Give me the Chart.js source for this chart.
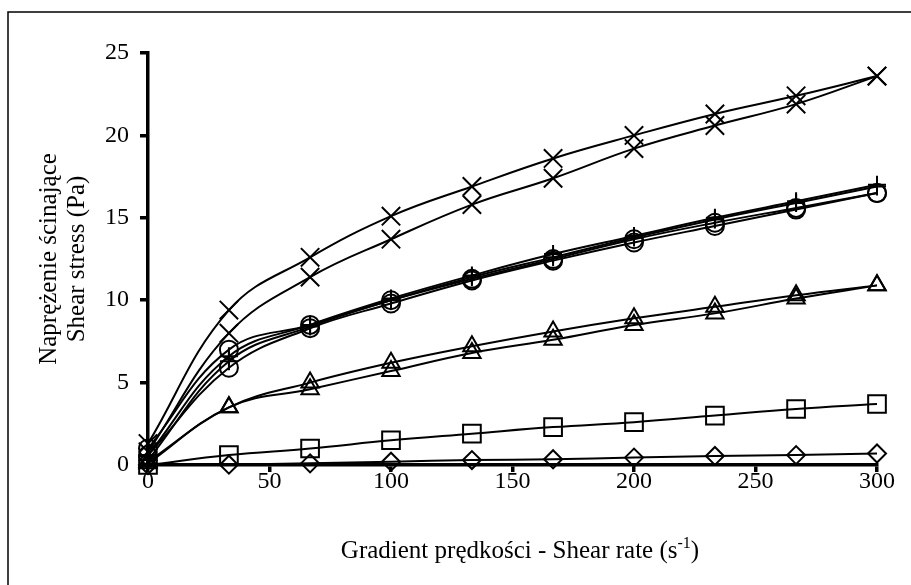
<!DOCTYPE html>
<html>
<head>
<meta charset="utf-8">
<script src="https://cdn.jsdelivr.net/npm/chart.js@4.4.0/dist/chart.umd.min.js"></script>
<style>
  html, body { margin: 0; padding: 0; background: #fff; }
  #wrap { width: 911px; height: 585px; position: relative; }
</style>
</head>
<body>
<div id="wrap"><canvas id="chart" width="911" height="585"></canvas></div>
<script>
// Gradient prędkości (s-1)
const shearRate = [0, 33.3, 66.7, 100, 133.3, 166.7, 200, 233.3, 266.7, 300];

// Naprężenie ścinające (Pa), krzywe w górę / w dół
const crossUp    = [1.3, 9.4, 12.6, 15.1, 16.9, 18.6, 20.0, 21.3, 22.4, 23.6];
const crossDown  = [0.8, 8.0, 11.4, 13.7, 15.8, 17.4, 19.2, 20.6, 21.9, 23.6];
const plusUp     = [0.6, 6.6, 8.5, 10.1, 11.5, 12.8, 13.9, 15.0, 16.0, 17.0];
const plusDown   = [0.3, 6.3, 8.4, 10.0, 11.4, 12.6, 13.8, 14.9, 15.9, 16.9];
const circleUp   = [1.0, 7.0, 8.5, 10.0, 11.3, 12.5, 13.7, 14.7, 15.6, 16.5];
const circleDown = [0.6, 5.9, 8.3, 9.8, 11.2, 12.4, 13.5, 14.5, 15.5, 16.5];
const triUp      = [0.2, 3.5, 5.0, 6.2, 7.2, 8.1, 8.9, 9.6, 10.3, 10.9];
const triDown    = [0.1, 3.5, 4.6, 5.7, 6.8, 7.6, 8.5, 9.2, 10.1, 10.9];
const squares    = [0, 0.6, 1.0, 1.5, 1.9, 2.3, 2.6, 3.0, 3.4, 3.7];
const diamonds   = [0, 0.02, 0.1, 0.2, 0.3, 0.35, 0.45, 0.55, 0.6, 0.7];

const xTicks = [0, 50, 100, 150, 200, 250, 300];
const yTicks = [0, 5, 10, 15, 20, 25];

const FONT = '"Liberation Serif", "Times New Roman", serif';

function toPoints(values) {
    return values.map((v, i) => ({ x: shearRate[i], y: v }));
}

function series(label, values, style, radius) {
    return {
        label: label,
        data: toPoints(values),
        borderColor: '#000',
        borderWidth: 2,
        backgroundColor: 'rgba(0,0,0,0)',
        pointStyle: style,
        pointRadius: radius,
        pointBorderWidth: 2,
        pointBorderColor: '#000',
        pointBackgroundColor: 'rgba(0,0,0,0)',
        tension: 0.4,
        clip: false
    };
}

// Tytuły osi i ramka rysowane ręcznie
const titlesPlugin = {
    id: 'titles',
    afterDraw(chart) {
        const ctx = chart.ctx;
        const area = chart.chartArea;
        ctx.save();
        ctx.fillStyle = '#000';
        ctx.strokeStyle = '#000';

        // ramka
        ctx.lineWidth = 1.5;
        ctx.beginPath();
        ctx.moveTo(8, 585);
        ctx.lineTo(8, 12);
        ctx.lineTo(911, 12);
        ctx.stroke();

        // tytuł osi Y
        const cy = (area.top + area.bottom) / 2;
        ctx.font = '25px ' + FONT;
        ctx.textAlign = 'center';
        ctx.textBaseline = 'middle';
        ctx.save();
        ctx.translate(49, cy);
        ctx.rotate(-Math.PI / 2);
        ctx.fillText('Naprężenie ścinające', 0, 0);
        ctx.restore();
        ctx.save();
        ctx.translate(77, cy);
        ctx.rotate(-Math.PI / 2);
        ctx.fillText('Shear stress (Pa)', 0, 0);
        ctx.restore();

        // tytuł osi X z indeksem górnym
        const main = 'Gradient prędkości - Shear rate (s';
        const sup = '-1';
        const close = ')';
        ctx.textAlign = 'left';
        ctx.textBaseline = 'alphabetic';
        ctx.font = '25px ' + FONT;
        const w1 = ctx.measureText(main).width;
        const w3 = ctx.measureText(close).width;
        ctx.font = '16px ' + FONT;
        const w2 = ctx.measureText(sup).width;
        const total = w1 + w2 + w3;
        let x = 520 - total / 2;
        const base = 558;
        ctx.font = '25px ' + FONT;
        ctx.fillText(main, x, base);
        x += w1;
        ctx.font = '16px ' + FONT;
        ctx.fillText(sup, x, base - 10);
        x += w2;
        ctx.font = '25px ' + FONT;
        ctx.fillText(close, x, base);
        ctx.restore();
    }
};

const ctx = document.getElementById('chart').getContext('2d');
new Chart(ctx, {
    type: 'line',
    data: {
        datasets: [
            series('× up', crossUp, 'crossRot', 13),
            series('× down', crossDown, 'crossRot', 13),
            series('+ up', plusUp, 'cross', 9),
            series('+ down', plusDown, 'cross', 9),
            series('○ up', circleUp, 'circle', 9),
            series('○ down', circleDown, 'circle', 9),
            series('△ up', triUp, 'triangle', 10),
            series('△ down', triDown, 'triangle', 10),
            series('□', squares, 'rect', 12.5),
            series('◇', diamonds, 'rectRot', 9)
        ]
    },
    options: {
        responsive: false,
        animation: false,
        layout: { padding: { left: 0, top: 53, right: 34, bottom: 0 } },
        plugins: {
            legend: { display: false },
            tooltip: { enabled: false }
        },
        scales: {
            x: {
                type: 'linear',
                min: 0,
                max: 300,
                afterFit: (scale) => { scale.height = 120; },
                afterBuildTicks: (scale) => { scale.ticks = xTicks.map(v => ({ value: v })); },
                border: { display: true, color: '#000', width: 3.5 },
                grid: { drawOnChartArea: false, drawTicks: true, tickLength: 7, color: '#000', lineWidth: 3.5 },
                ticks: { color: '#000', font: { family: FONT, size: 24 }, padding: -5, maxRotation: 0 }
            },
            y: {
                type: 'linear',
                min: 0,
                max: 25,
                afterFit: (scale) => { scale.width = 148; },
                afterBuildTicks: (scale) => { scale.ticks = yTicks.map(v => ({ value: v })); },
                border: { display: true, color: '#000', width: 3.5 },
                grid: { drawOnChartArea: false, drawTicks: true, tickLength: 8, color: '#000', lineWidth: 3.5 },
                ticks: { color: '#000', font: { family: FONT, size: 24 }, padding: 11 }
            }
        }
    },
    plugins: [titlesPlugin]
});
</script>
</body>
</html>
